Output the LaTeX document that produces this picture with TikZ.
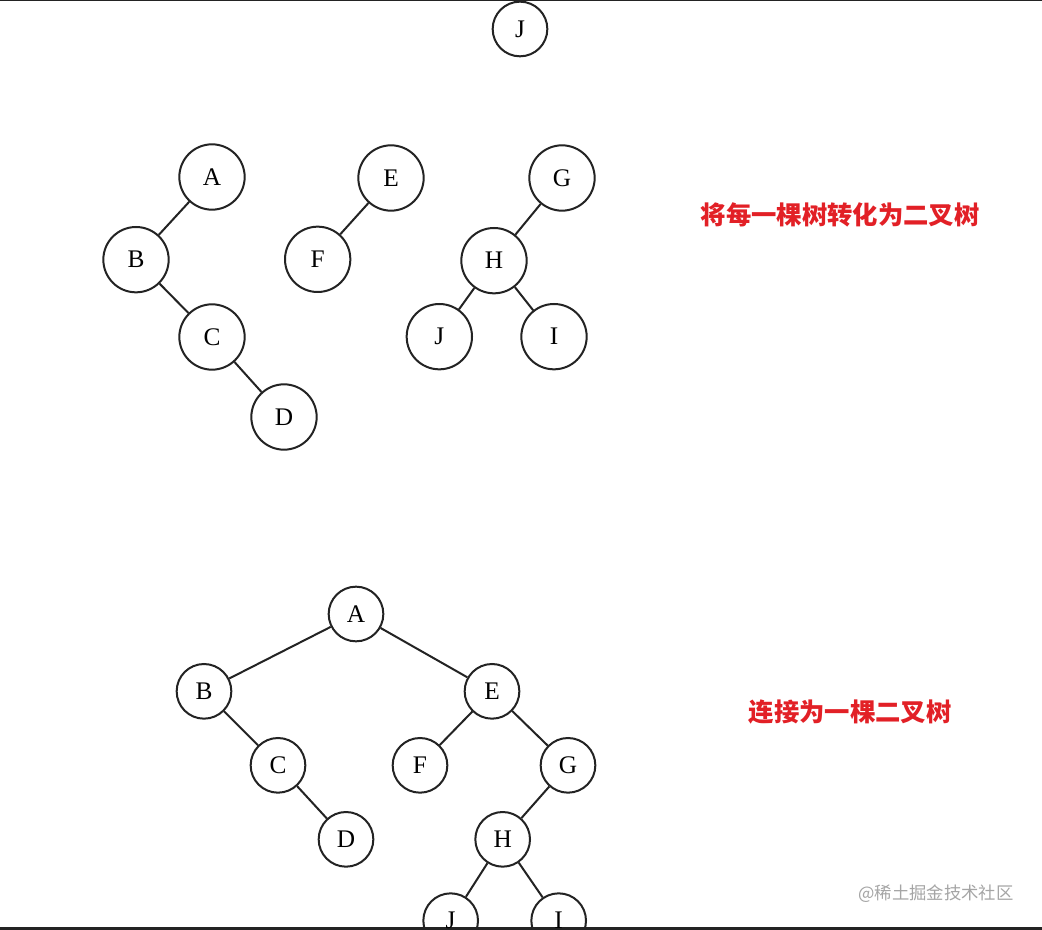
\documentclass[tikz,border=0pt]{standalone}
\usepackage{fontspec}
\setmainfont{Liberation Serif}
\newfontfamily\cjk{Noto Sans CJK SC}
\usetikzlibrary{positioning}
\definecolor{labelred}{RGB}{226,32,38}
\definecolor{inkgray}{RGB}{35,35,35}
\definecolor{markgray}{RGB}{165,165,165}
\begin{document}
\begin{tikzpicture}[x=0.75pt,y=-0.75pt,on grid,
    vertex/.style={circle,draw=inkgray,line width=1.5pt,minimum size=49pt,
                   inner sep=0pt,font=\fontsize{19}{22}\selectfont},
    lowvertex/.style={vertex,minimum size=41pt},
    every edge/.style={draw=inkgray,line width=1.5pt},
    caption/.style={font=\cjk\bfseries\fontsize{19}{22}\selectfont,text=labelred},
    watermark/.style={font=\cjk\fontsize{13}{15}\selectfont,text=markgray}]
      \clip (0,0) rectangle (1042,930);
      \fill[white] (0,0) rectangle (1042,930);
      \draw[inkgray,line width=1.8pt] (0,0) -- (1042,0);
      \draw[inkgray,line width=1.8pt] (0,928.5) -- (1042,928.5);

      \node[lowvertex] (jtop) at (520,29) {J};

      \node[vertex] (a1) at (212,177) {A};
      \node[vertex] (b1) [below left=62pt and 57pt of a1] {B};
      \node[vertex] (c1) [below right=58pt and 57pt of b1] {C};
      \node[vertex] (d1) [below right=60pt and 54pt of c1] {D};

      \node[vertex] (e1) at (391,178) {E};
      \node[vertex] (f1) [below left=61pt and 55pt of e1] {F};

      \node[vertex] (g1) at (562,178) {G};
      \node[vertex] (h1) [below left=62pt and 51pt of g1] {H};
      \node[vertex] (j1) [below left=57pt and 41pt of h1] {J};
      \node[vertex] (i1) [below right=57pt and 45pt of h1] {I};

      \path (a1) edge (b1) (b1) edge (c1) (c1) edge (d1);
      \path (e1) edge (f1);
      \path (g1) edge (h1) (h1) edge (j1) (h1) edge (i1);

      \node[caption] (step1) at (840,215) {将每一棵树转化为二叉树};

      \node[lowvertex] (a2) at (356,614) {A};
      \node[lowvertex] (b2) [below left=58pt and 114pt of a2] {B};
      \node[lowvertex] (e2) [below right=58pt and 102pt of a2] {E};
      \node[lowvertex] (c2) [below right=55.5pt and 55.5pt of b2] {C};
      \node[lowvertex] (d2) [below right=55.5pt and 51pt of c2] {D};
      \node[lowvertex] (f2) [below left=55.5pt and 54pt of e2] {F};
      \node[lowvertex] (g2) [below right=55.5pt and 57pt of e2] {G};
      \node[lowvertex] (h2) [below left=55.5pt and 49pt of g2] {H};
      \node[lowvertex] (j2) [below left=61pt and 39pt of h2] {J};
      \node[lowvertex] (i2) [below right=61pt and 42pt of h2] {I};

      \path (a2) edge (b2) (a2) edge (e2);
      \path (b2) edge (c2) (c2) edge (d2);
      \path (e2) edge (f2) (e2) edge (g2);
      \path (g2) edge (h2) (h2) edge (j2) (h2) edge (i2);

      \node[caption] (step2) at (850,712) {连接为一棵二叉树};
      \node[watermark] (mark) at (936,894) {@稀土掘金技术社区};
\end{tikzpicture}
\end{document}
